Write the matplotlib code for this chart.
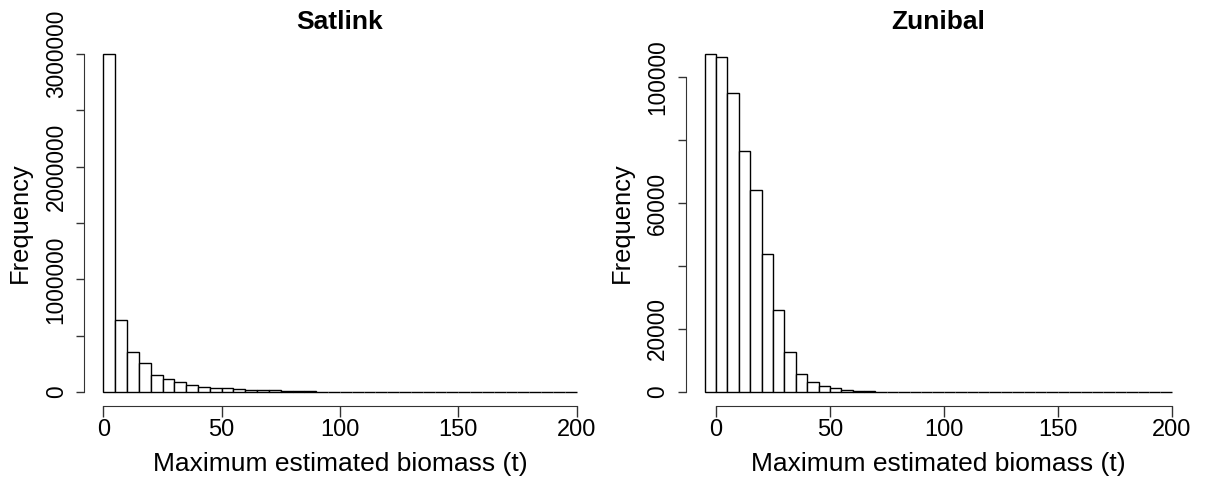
import numpy as np
import matplotlib
matplotlib.use("Agg")
import matplotlib.pyplot as plt

plt.rcParams['font.family'] = ['Liberation Sans', 'DejaVu Sans']

# Satlink: 5 t bins from 0 to 200 (empty bins at the top end)
satlink_edges = np.arange(0, 205, 5)
satlink_counts = [3000000, 642000, 355000, 254000, 148000, 118000, 86000,
                  65000, 47000, 35000, 33000, 27000, 20000, 19000, 16000,
                  8000, 6000, 5000, 4000, 3000, 2000] + [0] * 19

# Zunibal: 5 t bins from -5 to 200
zunibal_edges = np.arange(-5, 205, 5)
zunibal_counts = [107300, 106500, 95000, 76600, 64100, 43800, 26000, 12700,
                  5800, 3300, 2000, 1200, 650, 350, 200, 120, 70, 40] + [0] * 23

panels = [
    ("Satlink", satlink_edges, satlink_counts, (0, 200), 3000000,
     [0, 500000, 1000000, 1500000, 2000000, 2500000, 3000000],
     ["0", "", "1000000", "", "2000000", "", "3000000"]),
    ("Zunibal", zunibal_edges, zunibal_counts, (-5, 200), max(zunibal_counts),
     [0, 20000, 40000, 60000, 80000, 100000],
     ["0", "20000", "", "60000", "", "100000"]),
]
xticks = [0, 50, 100, 150, 200]

fig = plt.figure(figsize=(12.11, 4.82), dpi=100)
rects = [[0.0697, 0.1587, 0.4221, 0.7573], [0.5664, 0.1587, 0.4166, 0.7573]]

for rect, (title, edges, counts, xlim, ymax, yt, ylab) in zip(rects, panels):
    ax = fig.add_axes(rect)
    ax.hist(edges[:-1], bins=edges, weights=counts, facecolor='white',
            edgecolor='black', linewidth=1.0)
    dx = (xlim[1] - xlim[0]) * 0.04
    dy = ymax * 0.04
    ax.set_xlim(xlim[0] - dx, xlim[1] + dx)
    ax.set_ylim(-dy, ymax + dy)
    for s in ['top', 'right']:
        ax.spines[s].set_visible(False)
    ax.spines['left'].set_bounds(yt[0], yt[-1])
    ax.spines['bottom'].set_bounds(xticks[0], xticks[-1])
    ax.spines['left'].set_color('#333333')
    ax.spines['bottom'].set_color('#333333')
    ax.set_xticks(xticks)
    ax.set_yticks(yt)
    ax.set_yticklabels(ylab)
    ax.tick_params(axis='x', direction='out', length=7.9, width=1,
                   labelsize=17, pad=1.5, color='#333333')
    ax.tick_params(axis='y', direction='out', length=6, width=1,
                   labelsize=16.3, pad=6, color='#333333')
    plt.setp(ax.get_yticklabels(), rotation=90, va='center')
    ax.set_xlabel("Maximum estimated biomass (t)", fontsize=19, labelpad=8)
    ax.set_ylabel("Frequency", fontsize=18.4, labelpad=9)
    ax.set_title(title, fontsize=19, fontweight='bold', pad=8)

fig.savefig("out.png", dpi=100)
